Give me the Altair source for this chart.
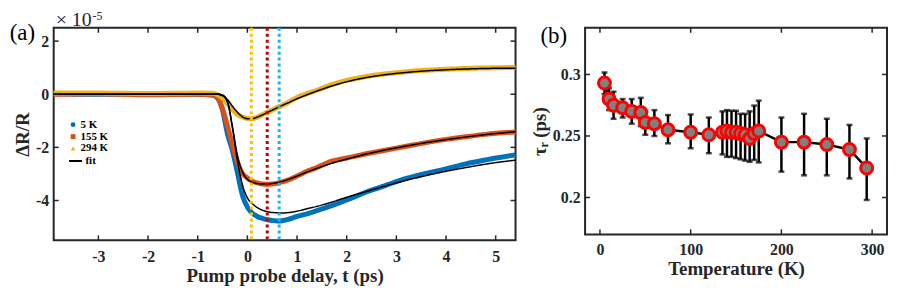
import altair as alt
import pandas as pd

SERIF = "Liberation Serif"
INK = "#262626"

# ---------------- Panel (a) data ----------------
t_grid = [-3.9, -3.0, -2.0, -1.0, -0.7, -0.6, -0.5, -0.4, -0.3, -0.2, -0.1, 0.0, 0.1, 0.2,
          0.3, 0.4, 0.5, 0.6, 0.7, 0.8, 1.0, 1.2, 1.4, 1.7, 2.0, 2.4, 2.8, 3.2, 3.6, 4.0,
          4.4, 4.8, 5.4]
data_5K = [0.02, 0.0, 0.02, 0.0, -0.03, -0.15, -0.6, -1.5, -2.12, -2.95, -3.8, -4.25, -4.48,
           -4.6, -4.67, -4.72, -4.75, -4.77, -4.76, -4.72, -4.6, -4.5, -4.38, -4.19, -3.98,
           -3.68, -3.42, -3.17, -2.98, -2.81, -2.62, -2.47, -2.28]
data_155K = [0.0, 0.02, -0.02, 0.0, -0.03, -0.12, -0.55, -1.2, -1.9, -2.55, -2.98, -3.15, -3.27,
             -3.34, -3.38, -3.39, -3.38, -3.35, -3.3, -3.24, -3.08, -2.9, -2.76, -2.52, -2.4,
             -2.24, -2.1, -1.96, -1.82, -1.7, -1.6, -1.51, -1.42]
data_294K = [0.05, 0.05, 0.03, 0.05, 0.04, -0.02, -0.15, -0.35, -0.58, -0.75, -0.86, -0.91, -0.92,
             -0.86, -0.77, -0.68, -0.6, -0.5, -0.42, -0.33, -0.12, 0.02, 0.15, 0.36, 0.52,
             0.67, 0.77, 0.85, 0.9, 0.94, 0.97, 0.99, 1.01]
fit_5K = [0, 0, 0, 0, 0, 0, -0.05, -0.28, -1.25, -2.5, -3.4, -3.9, -4.12, -4.27, -4.36, -4.42,
          -4.45, -4.46, -4.47, -4.46, -4.4, -4.31, -4.22, -4.06, -3.88, -3.66, -3.44, -3.24,
          -3.06, -2.9, -2.76, -2.63, -2.48]
fit_155K = [0, 0, 0, 0, 0, 0, -0.05, -0.3, -1.25, -2.3, -2.92, -3.2, -3.31, -3.36, -3.38, -3.38,
            -3.36, -3.33, -3.28, -3.22, -3.08, -2.93, -2.79, -2.6, -2.44, -2.25, -2.09, -1.95,
            -1.82, -1.71, -1.61, -1.52, -1.41]
fit_294K = [0, 0, 0, 0, 0, 0, -0.03, -0.2, -0.45, -0.68, -0.85, -0.92, -0.92, -0.86, -0.78,
            -0.69, -0.6, -0.51, -0.42, -0.34, -0.17, -0.02, 0.12, 0.31, 0.47, 0.63, 0.74, 0.82,
            0.88, 0.92, 0.95, 0.97, 0.98]
series_names = ["5 K", "155 K", "294 K"]
series_colors = ["#0072BD", "#D95319", "#EDB120"]
series_shapes = ["circle", "square", "triangle-up"]
fit_label = ["fit"]
marker_t = [0.08, 0.4, 0.64]
marker_colors = ["#FFC000", "#C00000", "#1EB4F0"]
a_xticks = [-3, -2, -1, 0, 1, 2, 3, 4, 5]
a_yticks = [-4, -2, 0, 2]

# ---------------- Panel (b) data ----------------
temps = [5, 10, 15, 25, 35, 45, 50, 60, 75, 100, 120, 135, 140, 145, 150, 155, 160, 165, 170,
         175, 200, 225, 250, 275, 294]
tau = [0.293, 0.280, 0.275, 0.273, 0.270, 0.269, 0.261, 0.260, 0.255, 0.253, 0.251, 0.253,
       0.254, 0.253, 0.253, 0.252, 0.251, 0.248, 0.252, 0.254, 0.245, 0.245, 0.243, 0.239, 0.224]
tau_lo = [0.284, 0.271, 0.264, 0.265, 0.260, 0.258, 0.251, 0.250, 0.244, 0.240, 0.236, 0.235,
          0.233, 0.233, 0.232, 0.231, 0.230, 0.229, 0.2306, 0.2285, 0.221, 0.218, 0.218, 0.2155,
          0.198]
tau_hi = [0.3016, 0.289, 0.286, 0.280, 0.280, 0.281, 0.270, 0.271, 0.267, 0.2675, 0.265, 0.270,
          0.271, 0.2705, 0.2705, 0.268, 0.268, 0.270, 0.2747, 0.2787, 0.265, 0.268, 0.264, 0.259,
          0.248]
b_xticks = [0, 100, 200, 300]
b_yticks = [0.2, 0.25, 0.3]

# ---------------- sizes ----------------
WA, HA = 465, 214
WB, HB = 304, 208
TL = 5  # inner tick length

AX = dict(labelFont=SERIF, labelFontWeight="bold", labelFontSize=16, labelColor=INK,
          titleFont=SERIF, titleFontWeight="bold", titleFontSize=19, titleColor=INK,
          ticks=False, domain=False, grid=False, labelExpr="'' + datum.value")

# ---------------- Panel (a) ----------------
rows = []
for name, vals in zip(series_names, [data_5K, data_155K, data_294K]):
    for t, v in zip(t_grid, vals):
        rows.append({"t": t, "v": v, "series": name})
data_df = pd.DataFrame(rows)
frows = []
for name, vals in zip(series_names, [fit_5K, fit_155K, fit_294K]):
    for t, v in zip(t_grid, vals):
        frows.append({"t": t, "v": v, "series": name, "lab": fit_label[0]})
fit_df = pd.DataFrame(frows)

xa = alt.X("t:Q", scale=alt.Scale(domain=[-3.9, 5.4], nice=False, zero=False),
           axis=alt.Axis(values=a_xticks, title="Pump probe delay, t (ps)", labelPadding=8,
                         titlePadding=2, **AX))
ya = alt.Y("v:Q", scale=alt.Scale(domain=[-5.5, 2.5], nice=False, zero=False),
           axis=alt.Axis(values=a_yticks, title="ΔR/R", labelPadding=5, titlePadding=3, **AX))

layers_a = []
for name, col in zip(series_names, series_colors):
    layers_a.append(
        alt.Chart(data_df).transform_filter(alt.datum.series == name)
        .mark_line(strokeWidth=5, interpolate="monotone", color=col)
        .encode(x=xa, y=ya)
    )

leg_common = dict(orient="none", title=None, padding=0, labelFont=SERIF,
                  labelFontWeight="bold", labelFontSize=11, labelColor="black",
                  labelOffset=2, rowPadding=0)
leg_fit = alt.Legend(legendX=14, legendY=126, symbolType="stroke", symbolSize=170,
                     symbolStrokeWidth=2, symbolStrokeColor="black", **leg_common)
layers_a.append(
    alt.Chart(fit_df).mark_line(strokeWidth=1.5, color="black", interpolate="monotone")
    .encode(x=xa, y=ya, detail="series:N",
            strokeDash=alt.StrokeDash("lab:N", scale=alt.Scale(domain=fit_label, range=[[1, 0]]),
                                      legend=leg_fit))
)
mk_df = pd.DataFrame({"t": marker_t, "c": marker_colors})
layers_a.append(
    alt.Chart(mk_df).mark_rule(strokeWidth=3, strokeDash=[3, 3])
    .encode(x=xa, color=alt.Color("c:N", scale=None))
)
axt = pd.DataFrame({"t": a_xticks})
ayt = pd.DataFrame({"v": a_yticks})
layers_a.append(alt.Chart(axt).mark_rule(color=INK, strokeWidth=1.5)
                .encode(x=xa, y=alt.value(0), y2=alt.value(TL)))
layers_a.append(alt.Chart(axt).mark_rule(color=INK, strokeWidth=1.5)
                .encode(x=xa, y=alt.value(HA), y2=alt.value(HA - TL)))
layers_a.append(alt.Chart(ayt).mark_rule(color=INK, strokeWidth=1.5)
                .encode(y=ya, x=alt.value(0), x2=alt.value(TL)))
layers_a.append(alt.Chart(ayt).mark_rule(color=INK, strokeWidth=1.5)
                .encode(y=ya, x=alt.value(WA), x2=alt.value(WA - TL)))

leg_pts = alt.Legend(legendX=14, legendY=92, symbolOpacity=1, symbolSize=24,
                     symbolStrokeWidth=0, **leg_common)
leg_df = pd.DataFrame({"series": series_names})
layers_a.append(
    alt.Chart(leg_df).mark_point(filled=True, opacity=0)
    .encode(color=alt.Color("series:N", scale=alt.Scale(domain=series_names, range=series_colors),
                            legend=leg_pts),
            shape=alt.Shape("series:N", scale=alt.Scale(domain=series_names, range=series_shapes),
                            legend=leg_pts))
)
layers_a.append(
    alt.Chart(pd.DataFrame({"s": ["(a)"]})).mark_text(font=SERIF, fontSize=23, align="center",
                                                       baseline="alphabetic", color="black")
    .encode(text="s:N", x=alt.value(-31.5), y=alt.value(12))
)
layers_a.append(
    alt.Chart(pd.DataFrame({"s": ["× 10"]})).mark_text(font=SERIF, fontSize=20, align="left",
                                                        baseline="alphabetic", color=INK)
    .encode(text="s:N", x=alt.value(2), y=alt.value(-2))
)
layers_a.append(
    alt.Chart(pd.DataFrame({"s": ["-5"]})).mark_text(font=SERIF, fontSize=12, align="left",
                                                      baseline="alphabetic", color=INK)
    .encode(text="s:N", x=alt.value(39), y=alt.value(-8))
)
panel_a = alt.layer(*layers_a).properties(width=WA, height=HA)

# ---------------- Panel (b) ----------------
b_df = pd.DataFrame({"T": temps, "tau": tau, "lo": tau_lo, "hi": tau_hi})
xb = alt.X("T:Q", scale=alt.Scale(domain=[-16.4, 316.4], nice=False, zero=False),
           axis=alt.Axis(values=b_xticks, title="Temperature (K)", labelPadding=7, titlePadding=2,
                         **AX))
yb = alt.Y("tau:Q", scale=alt.Scale(domain=[0.170, 0.3379], nice=False, zero=False),
           axis=alt.Axis(values=b_yticks, title="τᵣ (ps)", labelPadding=5, titlePadding=3, **AX))
layers_b = [
    alt.Chart(b_df).mark_line(color="black", strokeWidth=2.5).encode(x=xb, y=yb),
    alt.Chart(b_df).mark_rule(color="black", strokeWidth=2.5)
    .encode(x=xb, y=alt.Y("lo:Q"), y2=alt.Y2("hi:Q")),
    alt.Chart(b_df).mark_tick(color="black", orient="horizontal", size=6, thickness=2.5)
    .encode(x=xb, y=alt.Y("lo:Q")),
    alt.Chart(b_df).mark_tick(color="black", orient="horizontal", size=6, thickness=2.5)
    .encode(x=xb, y=alt.Y("hi:Q")),
    alt.Chart(b_df).mark_point(filled=True, fill="#808080", stroke="#FF0000", strokeWidth=3,
                               size=145, opacity=1)
    .encode(x=xb, y=yb),
]
bxt = pd.DataFrame({"T": b_xticks})
byt = pd.DataFrame({"tau": b_yticks})
layers_b.append(alt.Chart(bxt).mark_rule(color=INK, strokeWidth=1.5)
                .encode(x=xb, y=alt.value(0), y2=alt.value(TL)))
layers_b.append(alt.Chart(bxt).mark_rule(color=INK, strokeWidth=1.5)
                .encode(x=xb, y=alt.value(HB), y2=alt.value(HB - TL)))
layers_b.append(alt.Chart(byt).mark_rule(color=INK, strokeWidth=1.5)
                .encode(y=yb, x=alt.value(0), x2=alt.value(TL)))
layers_b.append(alt.Chart(byt).mark_rule(color=INK, strokeWidth=1.5)
                .encode(y=yb, x=alt.value(WB), x2=alt.value(WB - TL)))
layers_b.append(
    alt.Chart(pd.DataFrame({"s": ["(b)"]})).mark_text(font=SERIF, fontSize=23, align="center",
                                                       baseline="alphabetic", color="black")
    .encode(text="s:N", x=alt.value(-31.5), y=alt.value(15))
)
panel_b = alt.layer(*layers_b).properties(width=WB, height=HB)

chart = (
    alt.hconcat(panel_a, panel_b, spacing=70, bounds="flush")
    .properties(padding={"left": 0, "top": 0, "right": 0, "bottom": 0})
    .resolve_scale(color="independent", shape="independent", strokeDash="independent")
    .configure_view(stroke=INK, strokeWidth=2)
)
chart.save("out.html", embed_options={"renderer": "svg", "actions": False})
